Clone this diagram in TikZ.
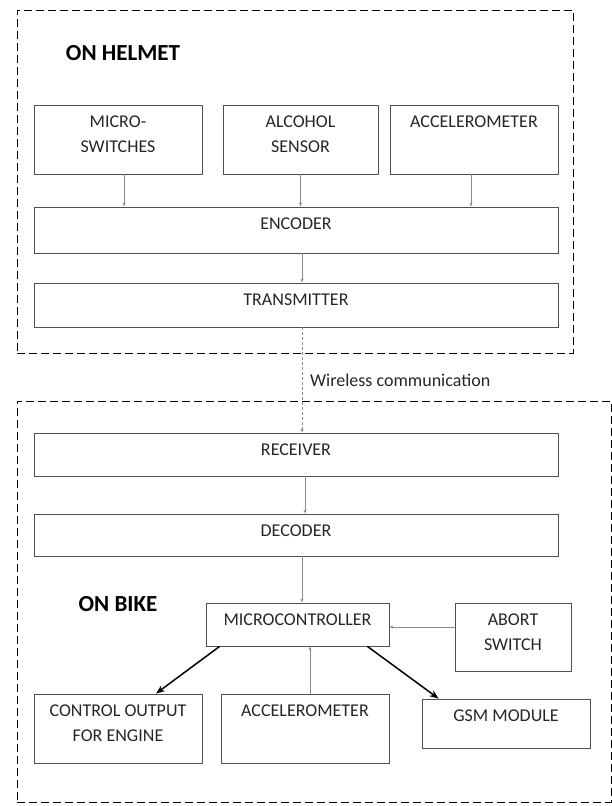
\documentclass[tikz,border=0pt]{standalone}
\usepackage{fontspec}
\setmainfont{Carlito}
\usepackage{tikz}
\usetikzlibrary{arrows.meta,positioning}
\definecolor{boxgray}{HTML}{505050}
\definecolor{wiregray}{HTML}{8A8A8A}
\tikzset{
  blk/.style={draw=boxgray, line width=0.9pt, inner sep=0pt},
  txt/.style={font=\fontsize{18}{25}\selectfont, align=center, text=black!85, anchor=north, inner sep=0pt, yshift=-11pt},
  ttl/.style={font=\fontsize{23}{28}\selectfont\bfseries, inner sep=0pt},
  frame/.style={draw, dash pattern=on 8pt off 4pt, line width=0.9pt, inner sep=0pt},
  thinarr/.style={draw=wiregray, line width=0.8pt, -{Stealth[length=4pt,width=3pt]}},
  thickarr/.style={draw=black, line width=1.5pt, -{Stealth[length=9pt,width=7pt]}},
}

\begin{document}
\begin{tikzpicture}[x=1pt,y=-1pt]
  \useasboundingbox (0,0) rectangle (612,806);

  \node[frame, minimum width=556pt, minimum height=343pt] (helmet) at (295,181.5) {};
  \node[frame, minimum width=594pt, minimum height=401pt] (bike) at (314,601.5) {};
  \node[ttl] (helmet-t) at (123,53) {ON HELMET};
  \node[ttl] (bike-t) at (118,604) {ON BIKE};

  \node[blk, minimum width=168pt, minimum height=69pt, label={[txt]north:MICRO-\\SWITCHES}] (ms) at (118,139.5) {};
  \node[blk, minimum width=155pt, minimum height=69pt, label={[txt]north:ALCOHOL\\SENSOR}] (alc) at (300.5,139.5) {};
  \node[blk, minimum width=168pt, minimum height=69pt, label={[txt]north:ACCELEROMETER}] (acch) at (474,139.5) {};
  \node[blk, minimum width=524pt, minimum height=46pt, label={[txt]north:ENCODER}] (enc) at (296,230) {};
  \node[blk, minimum width=524pt, minimum height=44pt, label={[txt]north:TRANSMITTER}] (trans) at (296,305) {};

  \node[blk, minimum width=524pt, minimum height=43pt, label={[txt]north:RECEIVER}] (rec) at (296,454.5) {};
  \node[blk, minimum width=524pt, minimum height=42pt, label={[txt]north:DECODER}] (dec) at (296,535) {};
  \node[blk, minimum width=183pt, minimum height=43pt, label={[txt]north:MICROCONTROLLER}] (mcu) at (297.5,624.5) {};
  \node[blk, minimum width=116pt, minimum height=68pt, label={[txt]north:ABORT\\SWITCH}] (abort) at (513,637) {};
  \node[blk, minimum width=168pt, minimum height=69pt, label={[txt]north:CONTROL OUTPUT\\FOR ENGINE}] (ctrl) at (118,728.5) {};
  \node[blk, minimum width=168pt, minimum height=69pt, label={[txt]north:ACCELEROMETER}] (accb) at (305,728.5) {};
  \node[blk, minimum width=168pt, minimum height=49pt, label={[txt]north:GSM MODULE}] (gsm) at (506,723.5) {};

  \node[font=\fontsize{18}{22}\selectfont, text=black!85, anchor=west, inner sep=0pt] (wl) at (310,380) {Wireless communication};

  \coordinate (spine) at (302,0);

  \draw[thinarr] ([xshift=6pt]ms.south) -- ([xshift=6pt]ms.south |- enc.north);
  \draw[thinarr] (alc.south) -- (alc.south |- enc.north);
  \draw[thinarr] ([xshift=-3pt]acch.south) -- ([xshift=-3pt]acch.south |- enc.north);
  \draw[thinarr] (spine |- enc.south) -- (spine |- trans.north);
  \draw[thinarr, dash pattern=on 3pt off 2pt] (spine |- trans.south) -- (spine |- rec.north);
  \draw[thinarr] ([xshift=3pt]spine |- rec.south) -- ([xshift=3pt]spine |- dec.north);
  \draw[thinarr] (spine |- dec.south) -- (spine |- mcu.north);
  \draw[thinarr] ([yshift=-2.5pt]mcu.east -| abort.west) -- ([yshift=-2.5pt]mcu.east);
  \draw[thinarr] ([xshift=5pt]accb.north) -- ([xshift=5pt]accb.north |- mcu.south);
  \draw[thickarr] ([xshift=14pt]mcu.south west) -- ([xshift=38pt]ctrl.north);
  \draw[thickarr] ([xshift=-22pt]mcu.south east) -- ([xshift=17pt]gsm.north west);
\end{tikzpicture}
\end{document}
